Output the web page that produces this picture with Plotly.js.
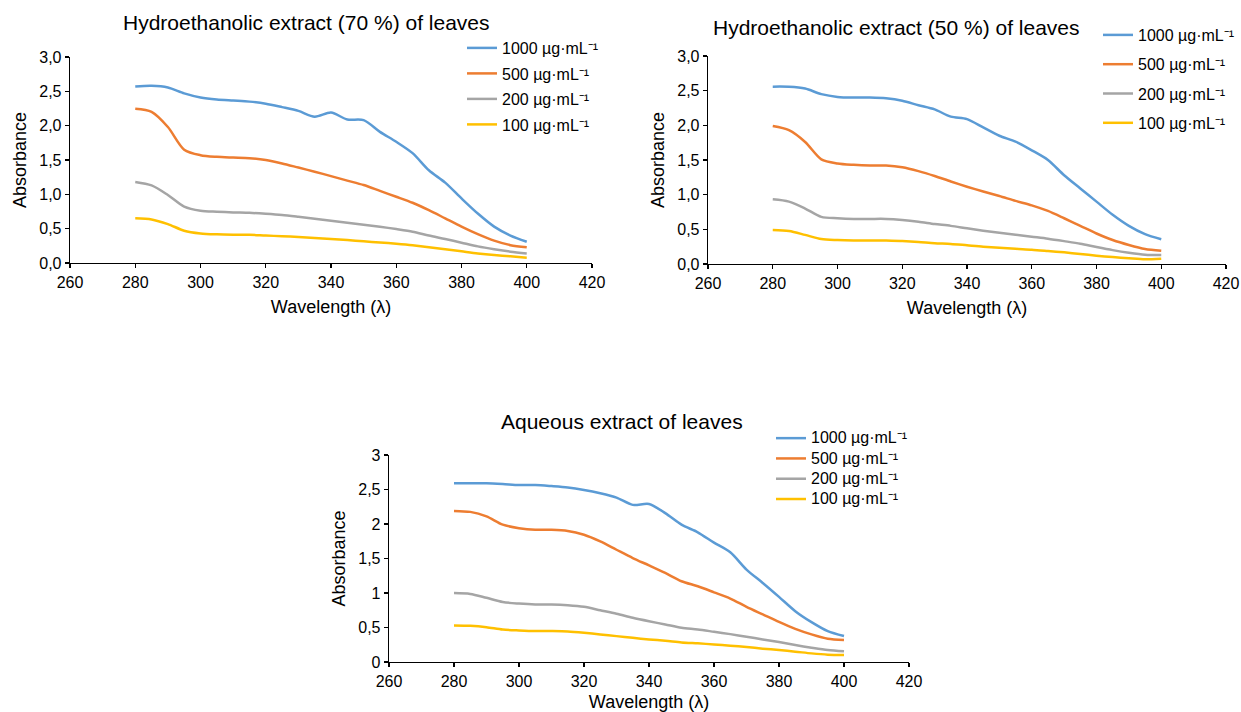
<!DOCTYPE html>
<html>
<head>
<meta charset="utf-8">
<script src="https://cdn.plot.ly/plotly-3.0.1.min.js"></script>
<style>html,body{margin:0;padding:0;background:#fff;}#chart{width:1241px;height:712px;}</style>
</head>
<body>
<div id="chart"></div>
<script>
// ---- data ----
const wavelengths = [280,285,290,295,300,305,310,315,320,325,330,335,340,345,350,355,360,365,370,375,380,385,390,395,400];
const seriesNames = ["1000 µg·mL⁻¹","500 µg·mL⁻¹","200 µg·mL⁻¹","100 µg·mL⁻¹"];
const chartTitles = ["Hydroethanolic extract (70 %) of leaves","Hydroethanolic extract (50 %) of leaves","Aqueous extract of leaves"];
const xTitle = "Wavelength (λ)";
const yTitle = "Absorbance";

// Hydroethanolic 70 %
const e70_1000 = [2.57,2.58,2.555,2.47,2.41,2.38,2.365,2.35,2.32,2.27,2.215,2.13,2.19,2.09,2.08,1.91,1.765,1.60,1.35,1.17,0.94,0.72,0.53,0.40,0.31];
const e70_500  = [2.245,2.20,1.98,1.65,1.57,1.546,1.536,1.527,1.50,1.45,1.39,1.33,1.265,1.20,1.135,1.05,0.965,0.877,0.77,0.65,0.53,0.42,0.325,0.26,0.23];
const e70_200  = [1.18,1.13,0.99,0.82,0.76,0.746,0.737,0.73,0.717,0.70,0.674,0.645,0.616,0.587,0.557,0.528,0.494,0.456,0.40,0.35,0.296,0.242,0.20,0.165,0.14];
const e70_100  = [0.65,0.635,0.567,0.47,0.43,0.417,0.412,0.412,0.40,0.39,0.378,0.364,0.35,0.334,0.315,0.30,0.28,0.257,0.228,0.20,0.17,0.14,0.116,0.097,0.078];

// Hydroethanolic 50 %
const e50_1000 = [2.558,2.556,2.53,2.45,2.41,2.40,2.40,2.39,2.355,2.29,2.23,2.125,2.09,1.97,1.85,1.765,1.64,1.50,1.28,1.09,0.90,0.71,0.55,0.43,0.356];
const e50_500  = [1.99,1.93,1.76,1.51,1.45,1.43,1.42,1.42,1.395,1.34,1.27,1.19,1.115,1.045,0.98,0.91,0.846,0.765,0.66,0.55,0.44,0.346,0.274,0.216,0.19];
const e50_200  = [0.933,0.90,0.80,0.68,0.66,0.65,0.65,0.65,0.635,0.61,0.577,0.55,0.514,0.48,0.45,0.423,0.394,0.365,0.33,0.293,0.245,0.20,0.163,0.135,0.13];
const e50_100  = [0.49,0.476,0.42,0.36,0.346,0.34,0.34,0.34,0.33,0.317,0.30,0.29,0.27,0.25,0.236,0.22,0.207,0.188,0.168,0.144,0.12,0.10,0.082,0.067,0.077];

// Aqueous
const aq_1000 = [2.59,2.59,2.59,2.58,2.566,2.566,2.55,2.53,2.494,2.446,2.383,2.277,2.29,2.157,1.99,1.88,1.73,1.59,1.34,1.146,0.944,0.737,0.578,0.448,0.376];
const aq_500  = [2.19,2.176,2.11,1.99,1.94,1.916,1.916,1.90,1.844,1.748,1.627,1.507,1.40,1.29,1.17,1.098,1.01,0.92,0.80,0.69,0.58,0.48,0.40,0.337,0.318];
const aq_200  = [1.00,0.987,0.93,0.87,0.847,0.833,0.833,0.823,0.80,0.75,0.70,0.64,0.59,0.544,0.496,0.472,0.438,0.404,0.366,0.327,0.289,0.245,0.207,0.173,0.154];
const aq_100  = [0.53,0.525,0.505,0.47,0.457,0.448,0.448,0.443,0.424,0.40,0.375,0.35,0.327,0.308,0.284,0.27,0.255,0.236,0.217,0.193,0.173,0.15,0.125,0.106,0.10];

// ---- styling / layout ----
const W = 1241, H = 712;
const colors = ["#5B9BD5","#ED7D31","#A5A5A5","#FFC000"];
const FONT = "Liberation Sans, Arial, sans-serif";
const px = v => v / W;
const py = v => 1 - v / H;

const charts = [
  {series:[e70_1000,e70_500,e70_200,e70_100], x0:70, x1:592, yTop:57, yBot:263, fmt:".1f",
   title:{x:306, y:22}, legend:{x:462, y:31, gap:1.7, fs:16}},
  {series:[e50_1000,e50_500,e50_200,e50_100], x0:708, x1:1226, yTop:56, yBot:264, fmt:".1f",
   title:{x:896, y:28}, legend:{x:1098, y:18, gap:5.5, fs:16}},
  {series:[aq_1000,aq_500,aq_200,aq_100], x0:389, x1:909, yTop:455, yBot:662, fmt:"",
   title:{x:622, y:421}, legend:{x:771, y:423, gap:0, fs:13.3}}
];

const traces = [];
const layout = {
  width: W, height: H,
  margin: {l:0, r:0, t:0, b:0},
  paper_bgcolor: "#fff", plot_bgcolor: "#fff",
  separators: ",.",
  font: {family: FONT, size: 16, color: "#000"},
  showlegend: true,
  annotations: []
};

charts.forEach((c, ci) => {
  const sfx = ci === 0 ? "" : String(ci + 1);
  const legName = "legend" + sfx;
  c.series.forEach((vals, si) => {
    const label = c.legend.fs === 16 ? seriesNames[si]
      : '<span style="font-size:16px">' + seriesNames[si] + '</span>';
    traces.push({
      x: wavelengths, y: vals, type: "scatter", mode: "lines",
      name: label,
      line: {color: colors[si], width: 2.5, shape: "spline", smoothing: 0.8},
      xaxis: "x" + sfx, yaxis: "y" + sfx,
      legend: legName, legendgroup: "g" + ci + "_" + si,
      hoverinfo: "skip"
    });
  });
  layout["xaxis" + sfx] = {
    domain: [px(c.x0), px(c.x1)], anchor: "y" + sfx,
    range: [260, 420], dtick: 20, tick0: 260,
    showgrid: false, zeroline: false,
    showline: true, linecolor: "#000", linewidth: 1.3,
    ticks: "outside", ticklen: 4, tickcolor: "#000", tickwidth: 1.3,
    tickfont: {family: FONT, size: 16, color: "#000"},
    title: {text: xTitle, font: {family: FONT, size: 18, color: "#000"}, standoff: 11}
  };
  layout["yaxis" + sfx] = {
    domain: [py(c.yBot), py(c.yTop)], anchor: "x" + sfx,
    range: [0, 3], dtick: 0.5, tick0: 0, tickformat: c.fmt,
    showgrid: false, zeroline: false,
    showline: true, linecolor: "#000", linewidth: 1.3,
    ticks: "outside", ticklen: 4, tickcolor: "#000", tickwidth: 1.3,
    tickfont: {family: FONT, size: 16, color: "#000"},
    title: {text: yTitle, font: {family: FONT, size: 18, color: "#000"}, standoff: 8}
  };
  layout[legName] = {
    x: px(c.legend.x), y: py(c.legend.y), xanchor: "left", yanchor: "top",
    xref: "paper", yref: "paper",
    bgcolor: "rgba(0,0,0,0)", borderwidth: 0,
    font: {family: FONT, size: c.legend.fs, color: "#000"},
    traceorder: "grouped", tracegroupgap: c.legend.gap,
    itemwidth: 30
  };
  layout.annotations.push({
    text: chartTitles[ci], xref: "paper", yref: "paper",
    x: px(c.title.x), y: py(c.title.y), xanchor: "center", yanchor: "middle",
    showarrow: false, font: {family: FONT, size: 21, color: "#000"}
  });
});

Plotly.newPlot("chart", traces, layout, {displayModeBar: false, staticPlot: true});
</script>
</body>
</html>
